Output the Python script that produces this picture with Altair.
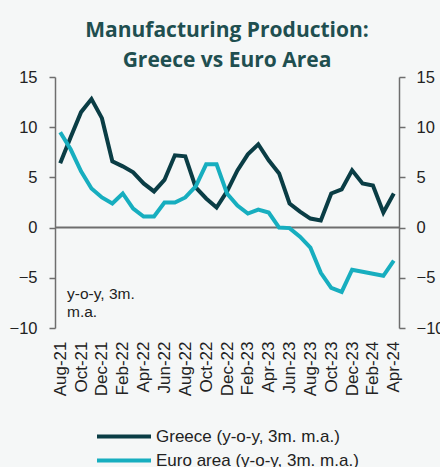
import altair as alt
import pandas as pd

months = ["Aug-21", "Sep-21", "Oct-21", "Nov-21", "Dec-21", "Jan-22", "Feb-22", "Mar-22",
          "Apr-22", "May-22", "Jun-22", "Jul-22", "Aug-22", "Sep-22", "Oct-22", "Nov-22",
          "Dec-22", "Jan-23", "Feb-23", "Mar-23", "Apr-23", "May-23", "Jun-23", "Jul-23",
          "Aug-23", "Sep-23", "Oct-23", "Nov-23", "Dec-23", "Jan-24", "Feb-24", "Mar-24",
          "Apr-24"]
greece = [6.4, 9.0, 11.5, 12.8, 10.9, 6.6, 6.1, 5.5, 4.4, 3.6, 4.75, 7.2, 7.1, 4.0, 2.9, 2.0,
          3.6, 5.7, 7.3, 8.3, 6.7, 5.4, 2.4, 1.6, 0.9, 0.7, 3.4, 3.8, 5.7, 4.4, 4.2, 1.5, 3.4]
euro = [9.5, 7.8, 5.6, 3.9, 3.0, 2.4, 3.4, 1.9, 1.1, 1.1, 2.5, 2.5, 3.0, 4.1, 6.3, 6.3,
        3.4, 2.2, 1.4, 1.8, 1.5, 0.0, -0.05, -0.9, -2.0, -4.5, -6.0, -6.4, -4.2, -4.4, -4.6,
        -4.8, -3.3]
series_names = ["Greece (y-o-y, 3m. m.a.)", "Euro area (y-o-y, 3m. m.a.)"]
series_colors = ["#0a3d45", "#17aebf"]
tick_labels = months[::2]
y_ticks = [-10, -5, 0, 5, 10, 15]
title_lines = ["Manufacturing Production:", "Greece vs Euro Area"]
note_lines = ["y-o-y, 3m.", "m.a."]

rows = []
for i, m in enumerate(months):
    rows.append({"month": m, "series": series_names[0], "value": greece[i]})
    rows.append({"month": m, "series": series_names[1], "value": euro[i]})
df = pd.DataFrame(rows)

FONT = "Liberation Sans"
GREY = "#6e6e6e"

x_enc = alt.X("month:O", sort=months, scale=alt.Scale(type="point", padding=0.5),
              axis=alt.Axis(values=tick_labels, labelAngle=-90, labelAlign="right",
                            labelBaseline="middle", domain=False, ticks=False,
                            labelPadding=13, labelFontSize=17, labelColor="#222222",
                            labelFont=FONT, title=None, grid=False))
y_scale = alt.Scale(domain=[-10, 15], nice=False, zero=False)

lines = alt.Chart(df).mark_line(strokeWidth=4, strokeJoin="miter").encode(
    x=x_enc,
    y=alt.Y("value:Q", scale=y_scale,
            axis=alt.Axis(orient="left", values=y_ticks, domainColor=GREY, domainWidth=1.5,
                          tickColor=GREY, tickWidth=1.5, tickSize=6, labelPadding=12,
                          labelFontSize=16.5, labelColor="#222222", labelFont=FONT,
                          grid=False, title=None)),
    color=alt.Color("series:N", sort=series_names,
                    scale=alt.Scale(domain=series_names, range=series_colors),
                    legend=alt.Legend(orient="none", legendX=40, legendY=344, title=None,
                                      direction="vertical", symbolType="M-1,0H3",
                                      symbolSize=729, symbolStrokeWidth=4,
                                      labelFontSize=17, labelFont=FONT, labelColor="#222222",
                                      labelOffset=30, rowPadding=0, labelLimit=400)),
    order=alt.Order("series_order:Q"),
).transform_calculate(series_order=f"datum.series === '{series_names[0]}' ? 1 : 0")

right_axis = alt.Chart(pd.DataFrame({"v": y_ticks})).mark_point(opacity=0).encode(
    y=alt.Y("v:Q", scale=y_scale,
            axis=alt.Axis(orient="right", values=y_ticks, domainColor=GREY, domainWidth=1.5,
                          tickColor=GREY, tickWidth=1.5, tickSize=6, labelPadding=11,
                          labelFontSize=16.5, labelColor="#222222", labelFont=FONT,
                          grid=False, title=None)),
)

zero = alt.Chart(pd.DataFrame({"z": [0]})).mark_rule(color=GREY, strokeWidth=2).encode(
    y=alt.Y("z:Q", scale=y_scale, axis=None)
)

note = alt.Chart(pd.DataFrame({"t": [note_lines]})).mark_text(
    align="left", baseline="alphabetic", fontSize=15.5, font=FONT, color="#222222",
    lineHeight=18
).encode(x=alt.value(12), y=alt.value(222), text="t:N")

chart = alt.layer(zero, lines, right_axis, note).resolve_scale(y="independent").properties(
    width=344, height=251,
    title=alt.TitleParams(text=title_lines, anchor="middle", frame="group", fontSize=21,
                          font="Open Sans", fontWeight="bold", color="#1f4f50", lineHeight=30,
                          offset=-2),
    autosize=alt.AutoSizeParams(type="none"),
    padding={"left": 55, "top": 77, "right": 41, "bottom": 139},
    background="#f5f7f7",
).configure_view(stroke=None)

chart.save("out.html", embed_options={"renderer": "svg", "actions": False})
